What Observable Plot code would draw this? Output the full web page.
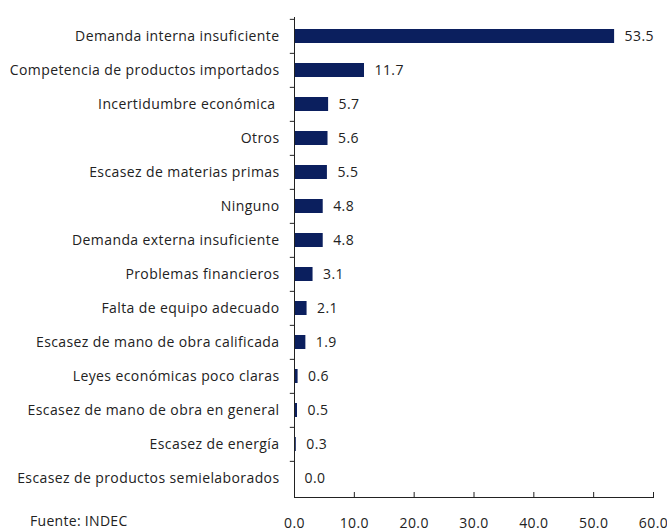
<!DOCTYPE html>
<html><head><meta charset="utf-8">
<script src="https://cdn.jsdelivr.net/npm/d3@7"></script>
<script src="https://cdn.jsdelivr.net/npm/@observablehq/plot@0.6"></script>
<style>
body{margin:0;background:#fff;font-family:"Open Sans",Arial,sans-serif;}
#wrap{position:relative;width:667px;height:532px;}
#src{position:absolute;left:30px;top:511px;font-size:14px;color:#222;letter-spacing:0.3px;}
</style></head><body>
<div id="wrap"><div id="chart"></div><div id="src">Fuente: INDEC</div></div>
<script>
const categories = [
  "Demanda interna insuficiente",
  "Competencia de productos importados",
  "Incertidumbre económica ",
  "Otros",
  "Escasez de materias primas",
  "Ninguno",
  "Demanda externa insuficiente",
  "Problemas financieros",
  "Falta de equipo adecuado",
  "Escasez de mano de obra calificada",
  "Leyes económicas poco claras",
  "Escasez de mano de obra en general",
  "Escasez de energía",
  "Escasez de productos semielaborados"
];
const values = [53.5, 11.7, 5.7, 5.6, 5.5, 4.8, 4.8, 3.1, 2.1, 1.9, 0.6, 0.5, 0.3, 0.0];
const xTicks = [0, 10, 20, 30, 40, 50, 60];

const data = categories.map((c, i) => ({cat: c, val: values[i]}));
const color = "#0b1f5e";
const font = '"Open Sans", Arial, sans-serif';

const chart = Plot.plot({
  width: 667,
  height: 532,
  marginLeft: 294,
  marginRight: 14,
  marginTop: 17,
  marginBottom: 35,
  style: {fontFamily: font, fontSize: "14px", color: "#222", overflow: "visible", letterSpacing: "0.4px"},
  x: {domain: [0, 60], label: null},
  y: {domain: categories, paddingInner: 0.58, paddingOuter: 0.29, align: 0.5, label: null},
  marks: [
    Plot.barX(data, {y: "cat", x: "val", fill: color}),
    Plot.text(data, {y: "cat", x: "val", text: d => d.val.toFixed(1), textAnchor: "start", dx: 10, fill: "#222", fontSize: 14}),
    Plot.axisY({tickSize: 0, tickPadding: 15, fontSize: 14, fill: "#222", label: null}),
    Plot.ruleY(categories, {y: d => d, x1: -0.7, x2: 0, dy: -480 / 28, stroke: "#222"}),
    Plot.axisX({ticks: xTicks, tickFormat: d => d.toFixed(1), tickSize: -5, tickPadding: 26, fontSize: 14, fill: "#222", stroke: "#222", label: null}),
    Plot.ruleX([0], {stroke: "#222"}),
    Plot.frame({anchor: "bottom", stroke: "#222"})
  ]
});
document.getElementById("chart").appendChild(chart);
</script>
</body></html>
